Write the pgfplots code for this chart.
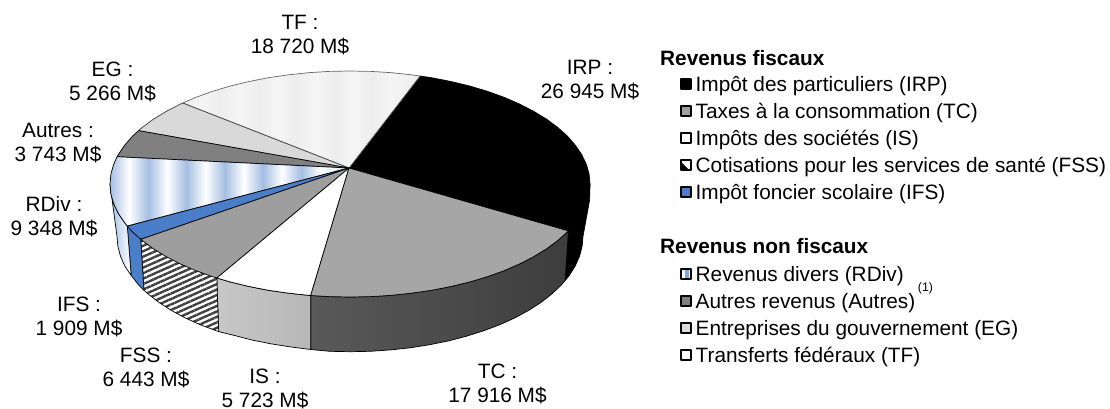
\documentclass[border=0pt]{standalone}
\usepackage{pgfplots}
\pgfplotsset{compat=1.18}
\usepackage{fontspec}
\setmainfont{Liberation Sans}
\usetikzlibrary{patterns.meta}
\definecolor{ifsblue}{HTML}{4A7EC8}
\definecolor{band}{HTML}{A4BEE2}
\pgfdeclarehorizontalshading{rdivbands}{100bp}{color(0bp)=(band); color(25bp)=(band); color(29bp)=(white); color(33bp)=(band); color(37bp)=(white); color(41bp)=(band); color(45bp)=(white); color(49bp)=(band); color(53bp)=(white); color(57bp)=(band); color(61bp)=(white); color(65bp)=(band); color(69bp)=(white); color(75bp)=(band!50!white); color(100bp)=(band!50!white)}
\pgfdeclarehorizontalshading{tfbands}{100bp}{color(0bp)=(black!7); color(25bp)=(black!7); color(29bp)=(black!4); color(33bp)=(black!7); color(37bp)=(black!4); color(41bp)=(black!7); color(45bp)=(black!4); color(49bp)=(black!7); color(53bp)=(black!4); color(57bp)=(black!7); color(61bp)=(black!4); color(65bp)=(black!7); color(69bp)=(black!4); color(75bp)=(black!7); color(100bp)=(black!7)}
\newcommand{\lab}[4]{\node[align=center,font=\fontsize{20.8}{24}\selectfont,inner sep=0pt] at (axis cs:#1,#2) {#3\\#4};}
\newcommand{\leg}[3]{\node[anchor=west,font=\fontsize{20.8}{24}\selectfont,inner sep=0pt] at (axis cs:#1,#2) {\strut #3};}
\begin{document}
\begin{tikzpicture}[x=1pt,y=1pt]
\path[use as bounding box] (0,0) rectangle (1110pt,408pt);
\begin{axis}[at={(0,0)},anchor=south west,scale only axis,width=1110pt,height=408pt,
  xmin=0,xmax=1110,ymin=0,ymax=408,y dir=reverse,axis lines=none,clip=false,
  every axis plot/.append style={line join=round}]
% side walls
\addplot[fill=black,draw=black,line width=.7pt] coordinates {(568.4,230.9)(575.5,222.6)(581.8,213.2)(586.4,203.6)(589.1,193.9)(590,184)(589.6,200)(583,236.3)(582.1,246.4)(579.5,256.3)(575.1,266.2)(569,275.8)(565.1,280.6)} -- cycle;
\addplot[left color=black!65,right color=black!76,draw=black,line width=.7pt] coordinates {(310.7,295.5)(329.1,296.6)(350,297)(370.9,296.6)(391.7,295.3)(412.1,293.1)(432.1,290.2)(451.4,286.4)(470,281.9)(487.7,276.6)(504.3,270.6)(519.7,263.9)(533.8,256.6)(546.6,248.8)(557.8,240.5)(567.5,231.8)(568.4,230.9)(565.1,280.6)(561.2,285.1)(551.8,294)(540.9,302.5)(528.5,310.5)(514.8,317.9)(499.8,324.7)(483.6,330.8)(466.5,336.2)(448.5,340.9)(429.7,344.7)(410.3,347.8)(390.4,349.9)(370.3,351.3)(350,351.7)(329.7,351.3)(310.7,349.5)} -- cycle;
\addplot[left color=black!22,right color=black!28,draw=black,line width=.7pt] coordinates {(216.8,278)(230,281.9)(248.6,286.4)(267.9,290.2)(287.9,293.1)(308.3,295.3)(310.7,295.5)(310.7,349.5)(289.7,346.8)(270.3,343.7)(251.5,339.9)(233.5,335.2)(218.7,331.6)} -- cycle;
\addplot[fill=white,draw=none,postaction={pattern={Lines[angle=24,distance=5pt,line width=2.4pt]},pattern color=black!75}] coordinates {(140.7,239.3)(142.2,240.5)(153.4,248.8)(166.2,256.6)(180.3,263.9)(195.7,270.6)(212.3,276.6)(216.8,278)(218.7,331.6)(216.4,330.8)(200.2,324.7)(185.2,317.9)(171.5,310.5)(159.1,302.5)(148.2,294)(144,290.3)} -- cycle;
\addplot[draw=black,line width=.7pt] coordinates {(140.7,239.3)(144,290.3)(148.2,294)(159.1,302.5)(171.5,310.5)(185.2,317.9)(200.2,324.7)(216.4,330.8)(218.7,331.6)(216.8,278)};
\addplot[fill=ifsblue,draw=black,line width=.7pt] coordinates {(127.3,226.1)(132.5,231.8)(140.7,239.3)(144,290.3)(138.8,285.1)(131.2,275.5)} -- cycle;
\addplot[left color=band,right color=white,draw=black,line width=.7pt] coordinates {(110,184)(110.9,193.9)(113.6,203.6)(118.2,213.2)(124.5,222.6)(127.3,226.1)(131.2,275.5)(124.9,266.2)(120.5,256.3)(117.9,246.4)(117,236.3)} -- cycle;
% top: wedges
\addplot[fill=black,draw=black,line width=.7pt] coordinates {(349,168)(568.4,230.9)(575.5,222.6)(581.8,213.2)(586.4,203.6)(589.1,193.9)(590,184)(589.1,174.1)(586.4,164.4)(581.8,154.8)(575.5,145.4)(567.5,136.2)(557.8,127.5)(546.6,119.2)(533.8,111.4)(519.7,104.1)(504.3,97.4)(487.7,91.4)(470,86.1)(451.4,81.6)(432.1,77.8)(420,76)} -- cycle;
\addplot[shading=tfbands,draw=black!60,line width=.7pt] coordinates {(349,168)(420,76)(412.1,74.9)(391.7,72.7)(370.9,71.4)(350,71)(329.1,71.4)(308.3,72.7)(287.9,74.9)(267.9,77.8)(248.6,81.6)(230,86.1)(212.3,91.4)(195.7,97.4)(182.7,103)} -- cycle;
\addplot[fill=black!15,draw=black!75,line width=.7pt] coordinates {(349,168)(182.7,103)(180.3,104.1)(166.2,111.4)(153.4,119.2)(142.2,127.5)(138.5,130.6)} -- cycle;
\addplot[fill=black!50,draw=black,line width=.7pt] coordinates {(349,168)(138.5,130.6)(132.5,136.2)(124.5,145.4)(118.2,154.8)(117.1,156.7)} -- cycle;
\addplot[shading=rdivbands,draw=black,line width=.7pt] coordinates {(349,168)(117.1,156.7)(113.6,164.4)(110.9,174.1)(110,184)(110.9,193.9)(113.6,203.6)(118.2,213.2)(124.5,222.6)(127.3,226.1)} -- cycle;
\addplot[fill=ifsblue,draw=black,line width=.7pt] coordinates {(349,168)(127.3,226.1)(132.5,231.8)(140.7,239.3)} -- cycle;
\addplot[fill=black!38,draw=black,line width=.7pt] coordinates {(349,168)(140.7,239.3)(142.2,240.5)(153.4,248.8)(166.2,256.6)(180.3,263.9)(195.7,270.6)(212.3,276.6)(216.8,278)} -- cycle;
\addplot[fill=white,draw=black,line width=.7pt] coordinates {(349,168)(216.8,278)(230,281.9)(248.6,286.4)(267.9,290.2)(287.9,293.1)(308.3,295.3)(310.7,295.5)} -- cycle;
\addplot[fill=black!35,draw=black,line width=.7pt] coordinates {(349,168)(310.7,295.5)(329.1,296.6)(350,297)(370.9,296.6)(391.7,295.3)(412.1,293.1)(432.1,290.2)(451.4,286.4)(470,281.9)(487.7,276.6)(504.3,270.6)(519.7,263.9)(533.8,256.6)(546.6,248.8)(557.8,240.5)(567.5,231.8)(568.4,230.9)} -- cycle;
% legend swatches
\pgfplotsset{swatch/.style={only marks,mark=square*,mark size=5pt,mark options={draw=black,line width=1.5pt,fill=#1}}}
\addplot[swatch=black] coordinates {(686,84)};
\addplot[swatch=black!38] coordinates {(686,111)};
\addplot[swatch=white] coordinates {(686,138)};
\addplot[fill=white,draw=black,line width=1.5pt] coordinates {(681,160)(691,160)(691,170)(681,170)} -- cycle;
\addplot[fill=black,draw=none] coordinates {(681,170)(681,162)(689,170)} -- cycle;
\addplot[swatch=ifsblue] coordinates {(686,192)};
\addplot[fill=white,draw=black,line width=1.5pt] coordinates {(681,269)(691,269)(691,279)(681,279)} -- cycle;
\addplot[fill=ifsblue!70,draw=none] coordinates {(685,270)(689,270)(689,278)(685,278)} -- cycle;
\addplot[swatch=black!50] coordinates {(686,301)};
\addplot[swatch=black!15] coordinates {(686,328)};
\addplot[swatch=white] coordinates {(686,355)};
% legend text
\node[anchor=west,font=\fontsize{20.8}{24}\selectfont\bfseries,inner sep=0pt] at (axis cs:660,60.5) {\strut Revenus fiscaux};
\leg{695.5}{86.5}{Impôt des particuliers (IRP)}
\leg{695.5}{113.5}{Taxes à la consommation (TC)}
\leg{695.5}{140.5}{Impôts des sociétés (IS)}
\leg{695.5}{167.5}{Cotisations pour les services de santé (FSS)}
\leg{695.5}{194.5}{Impôt foncier scolaire (IFS)}
\node[anchor=west,font=\fontsize{20.8}{24}\selectfont\bfseries,inner sep=0pt] at (axis cs:660,248.5) {\strut Revenus non fiscaux};
\leg{695.5}{276.5}{Revenus divers (RDiv)}
\leg{695.5}{303.5}{Autres revenus (Autres)}
\node[font=\fontsize{12.3}{14}\selectfont,inner sep=0pt] at (axis cs:925.5,288) {(1)};
\leg{695.5}{330.5}{Entreprises du gouvernement (EG)}
\leg{695.5}{357.5}{Transferts fédéraux (TF)}
% labels
\lab{300}{35.5}{TF :}{18 720 M\$}
\lab{112.5}{81.5}{EG :}{5 266 M\$}
\lab{58}{143.5}{Autres :}{3 743 M\$}
\lab{54}{217}{RDiv :}{9 348 M\$}
\lab{79}{316.5}{IFS :}{1 909 M\$}
\lab{146}{367.5}{FSS :}{6 443 M\$}
\lab{265}{389}{IS :}{5 723 M\$}
\lab{497.5}{384}{TC :}{17 916 M\$}
\lab{590}{80.5}{IRP :}{26 945 M\$}
\end{axis}
\end{tikzpicture}
\end{document}
